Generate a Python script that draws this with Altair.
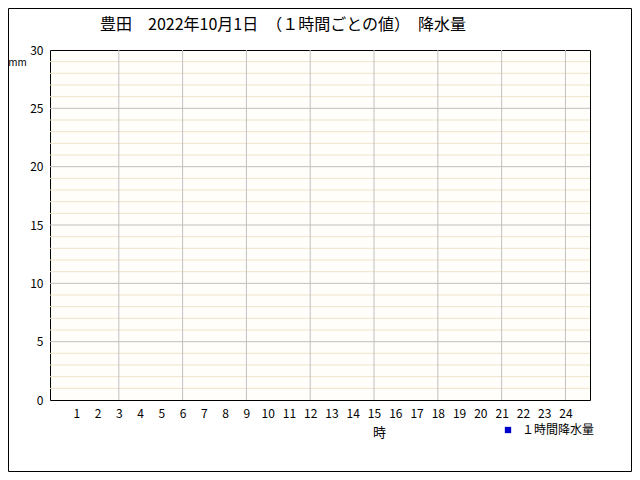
import altair as alt
import pandas as pd

TITLE = "豊田　2022年10月1日　（１時間ごとの値）　降水量"
SERIES = "１時間降水量"
hours = [1, 2, 3, 4, 5, 6, 7, 8, 9, 10, 11, 12, 13, 14, 15, 16, 17, 18, 19, 20, 21, 22, 23, 24]
rain_mm = [0, 0, 0, 0, 0, 0, 0, 0, 0, 0, 0, 0, 0, 0, 0, 0, 0, 0, 0, 0, 0, 0, 0, 0]
y_labels = [0, 5, 10, 15, 20, 25, 30]
y_major_grid = [5, 10, 15, 20, 25]
y_minor_grid = [1, 2, 3, 4, 6, 7, 8, 9, 11, 12, 13, 14, 16, 17, 18, 19,
                21, 22, 23, 24, 26, 27, 28, 29]
x_major_grid = [3, 6, 9, 12, 15, 18, 21, 24]

FONT = "Noto Sans CJK JP"
GRAY = "#c0c0c0"
BEIGE = "#eee4c8"

x_scale = alt.Scale(domain=[0, 24.92], nice=False, zero=False)
y_scale = alt.Scale(domain=[0, 30], nice=False, zero=True)

x_axis = alt.Axis(values=hours, ticks=False, domain=False, grid=False,
                  labelFont=FONT, labelFontSize=12, labelColor="black",
                  labelPadding=8, labelFlush=False, labelOverlap=False,
                  title="時", titleFont=FONT, titleFontSize=13,
                  titleFontWeight="normal", titleColor="black",
                  titleX=329, titleY=32, titleAlign="center",
                  titleBaseline="middle")
y_axis = alt.Axis(values=y_labels, ticks=False, domain=False, grid=False,
                  labelFont=FONT, labelFontSize=12, labelColor="black",
                  labelPadding=7, labelFlush=False,
                  title="mm", titleFont=FONT, titleFontSize=10,
                  titleFontWeight="normal", titleColor="black",
                  titleAngle=0, titleX=-33, titleY=12, titleAlign="center",
                  titleBaseline="middle")


def xenc(field):
    return alt.X(field, type="quantitative", scale=x_scale, axis=x_axis)


def yenc(field):
    return alt.Y(field, type="quantitative", scale=y_scale, axis=y_axis)


minor_rules = alt.Chart(pd.DataFrame({"v": y_minor_grid})).mark_rule(
    color=BEIGE, strokeWidth=1).encode(y=yenc("v"))

major_rules = alt.Chart(pd.DataFrame({"v": y_major_grid})).mark_rule(
    color=GRAY, strokeWidth=1).encode(y=yenc("v"))

vert_rules = alt.Chart(pd.DataFrame({"h": x_major_grid})).mark_rule(
    color=GRAY, strokeWidth=1).encode(x=xenc("h"))

rain_df = pd.DataFrame({"hour": hours, "rain": rain_mm,
                        "series": [SERIES] * len(hours)})
bars = alt.Chart(rain_df).mark_bar(size=14).encode(
    x=xenc("hour"),
    y=yenc("rain"),
    color=alt.Color("series:N",
                    scale=alt.Scale(domain=[SERIES], range=["#0000cc"]),
                    legend=alt.Legend(title=None, orient="none",
                                      legendX=452, legendY=374,
                                      symbolType="square", symbolSize=40,
                                      symbolStrokeWidth=0,
                                      labelFont=FONT, labelFontSize=12,
                                      labelColor="black", labelOffset=8)),
)

title_text = alt.Chart(pd.DataFrame({"t": [TITLE]})).mark_text(
    align="left", baseline="middle", font=FONT, fontSize=16,
    color="black").encode(text="t:N", x=alt.value(50), y=alt.value(-25))

frame = alt.Chart(pd.DataFrame({"f": [0]})).mark_rect(
    fillOpacity=0, stroke="black", strokeWidth=1).encode(
    x=alt.value(-41.5), x2=alt.value(581.5),
    y=alt.value(-41.5), y2=alt.value(421.5))

chart = alt.layer(minor_rules, major_rules, vert_rules, bars, title_text,
                  frame).properties(
    width=540, height=350,
    autosize=alt.AutoSizeParams(type="none"),
    padding={"left": 42, "top": 42, "right": 42, "bottom": 72},
    background="white",
).configure_view(stroke="black", strokeWidth=1, fill="#fffefb")

chart.save("out.html", embed_options={"renderer": "svg", "actions": False})
